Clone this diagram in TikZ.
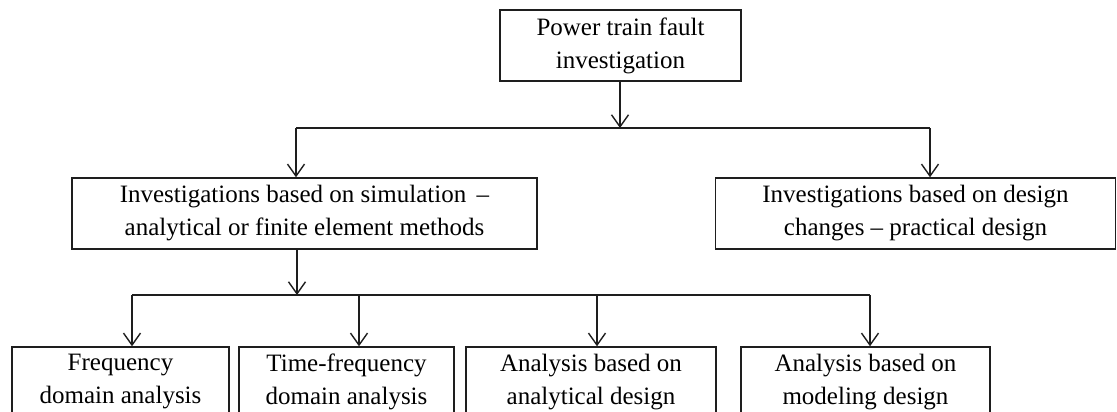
\documentclass[tikz,border=0pt]{standalone}
\usepackage{fontspec}
\setmainfont{Liberation Serif}
\usetikzlibrary{arrows.meta}
\definecolor{ink}{HTML}{1E1E1E}
\tikzset{
  box/.style={draw=ink, line width=1.4pt, rectangle, align=center, inner sep=0pt,
              font=\fontsize{25}{33}\selectfont, text=black},
  link/.style={draw=ink, line width=1.4pt},
  arr/.style={link, -{Straight Barb[length=12pt, width=17pt, line width=1.4pt]}},
}
\begin{document}
\begin{tikzpicture}[x=1pt, y=-1pt]
  \useasboundingbox (0,0) rectangle (1117,412);
  \clip (0,0) rectangle (1117,412);

  % level 0
  \node[box, minimum width=241pt, minimum height=71pt] (root) at (620.5,45.5)
    {Power train fault\\investigation};

  % level 1
  \node[box, minimum width=465pt, minimum height=71pt] (sim) at (304.5,213.5)
    {Investigations based on simulation \,--\\analytical or finite element methods};
  \node[box, minimum width=400pt, minimum height=71pt] (des) at (915.5,213.5)
    {Investigations based on design\\changes -- practical design};

  % level 2
  \node[box, minimum width=217pt, minimum height=70pt] (freq) at (120.5,382)
    {Frequency\\domain analysis};
  \node[box, minimum width=215pt, minimum height=70pt] (tfreq) at (346.5,382)
    {Time-frequency\\domain analysis};
  \node[box, minimum width=250pt, minimum height=70pt] (anal) at (591,382)
    {Analysis based on\\analytical design};
  \node[box, minimum width=249pt, minimum height=70pt] (model) at (865.5,382)
    {Analysis based on\\modeling design};

  % junctions
  \coordinate (j0) at (620,128);
  \coordinate (a1) at (296,128);
  \coordinate (a2) at (930,128);
  \coordinate (j1) at (297,295);
  \coordinate (c1) at (132,295);
  \coordinate (c2) at (359,295);
  \coordinate (c3) at (597,295);
  \coordinate (c4) at (870,295);

  % root to level 1
  \draw[arr] (root.south -| j0) -- (j0);
  \draw[link] (a1) -- (a2);
  \draw[arr] (a1) -- (a1 |- sim.north);
  \draw[arr] (a2) -- (a2 |- des.north);

  % simulation branch to level 2
  \draw[arr] (sim.south -| j1) -- (j1);
  \draw[link] (c1) -- (c4);
  \draw[arr] (c1) -- (c1 |- freq.north);
  \draw[arr] (c2) -- (c2 |- tfreq.north);
  \draw[arr] (c3) -- (c3 |- anal.north);
  \draw[arr] (c4) -- (c4 |- model.north);
\end{tikzpicture}
\end{document}
